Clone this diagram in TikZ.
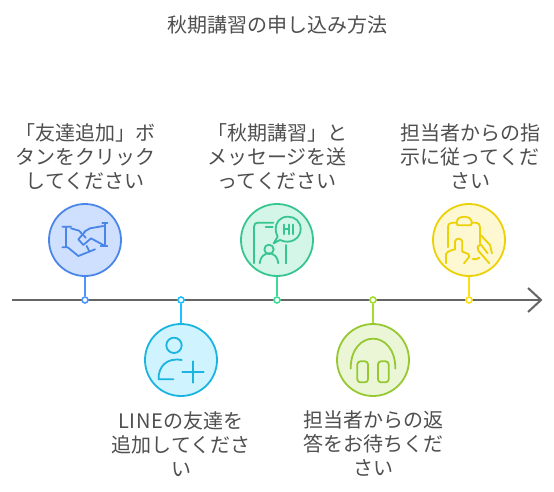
\documentclass[tikz,border=0pt]{standalone}
\usepackage{fontspec}
\setmainfont{Noto Sans CJK JP}
\definecolor{txt}{HTML}{4F4F4F}
\definecolor{axis}{HTML}{666666}
\definecolor{bS}{HTML}{4A86E8}\definecolor{bF}{HTML}{CFE0FF}\definecolor{bC}{HTML}{4D94FF}
\definecolor{cS}{HTML}{1AB4E0}\definecolor{cF}{HTML}{CFF3FF}\definecolor{cC}{HTML}{1EC0FF}
\definecolor{gS}{HTML}{38C58F}\definecolor{gF}{HTML}{D3F6E9}\definecolor{gC}{HTML}{3DDC97}
\definecolor{lS}{HTML}{97C832}\definecolor{lF}{HTML}{EAF6D6}\definecolor{lC}{HTML}{A3DB2E}
\definecolor{yS}{HTML}{EBD106}\definecolor{yF}{HTML}{FDF8D2}\definecolor{yC}{HTML}{FDE010}
\tikzset{
  badge/.style={circle,draw=#1S,fill=#1F,line width=1.8pt,minimum size=72pt,inner sep=0pt},
  tick/.style={circle,draw=#1C,fill=white,line width=1.6pt,minimum size=6pt,inner sep=0pt},
  link/.style={draw=#1C,line width=2pt},
  label/.style={text=txt,font=\fontsize{20}{24}\selectfont,align=center,inner sep=0pt},
  icon/.style={draw=#1S,line width=1.8pt,line cap=round,line join=round},
  zoomed/.style 2 args={shift={(#1,#2)},x=0.33333pt,y=-0.33333pt},
}
\begin{document}
\begin{tikzpicture}[x=1pt,y=-1pt]
\useasboundingbox (0,0) rectangle (554,492);
\fill[white] (0,0) rectangle (554,492);
\node[label] (title) at (277,24.5) {秋期講習の申し込み方法};
\coordinate (axisL) at (12,300);
\coordinate (axisR) at (541,300);
\draw[axis,line width=1.9pt] (axisL) -- (axisR);
\draw[axis,line width=2pt] (528,288) -- (axisR) -- (528,312);

\node[badge=b] (c1) at (85,240) {};
\node[badge=c] (c2) at (181,360) {};
\node[badge=g] (c3) at (277,240) {};
\node[badge=l] (c4) at (373,360) {};
\node[badge=y] (c5) at (469,240) {};
\node[tick=b] (t1) at (85,300) {};
\node[tick=c] (t2) at (181,300) {};
\node[tick=g] (t3) at (277,300) {};
\node[tick=l] (t4) at (373,300) {};
\node[tick=y] (t5) at (469,300) {};
\draw[link=b] (c1) -- (t1);
\draw[link=c] (c2) -- (t2);
\draw[link=g] (c3) -- (t3);
\draw[link=l] (c4) -- (t4);
\draw[link=y] (c5) -- (t5);

\node[label] (l1) at (85,156.5) {「友達追加」ボ\\タンをクリック\\してください};
\node[label] (l2) at (181,444) {{\addfontfeature{LetterSpace=4}LINE}の友達を\\追加してくださ\\い};
\node[label] (l3) at (277,156.5) {「秋期講習」と\\メッセージを送\\ってください};
\node[label] (l4) at (373,444) {担当者からの返\\答をお待ちくだ\\さい};
\node[label] (l5) at (470,156.5) {担当者からの指\\示に従ってくだ\\さい};

% handshake
\begin{scope}[zoomed={30}{190},icon=b]
\draw (97,110) -- (123,110) (108,110) -- (108,172) (97,172) -- (113,172) -- (145,198) -- (195,178);
\draw (123,115) -- (147,122) -- (167,143);
\draw (163,125) -- (180,115) -- (220,108);
\draw (217,100) -- (232,100) (225,100) -- (225,168) (212,168) -- (232,168);
\draw (165,125) -- (145,148) -- (160,165) -- (183,145) -- (220,165);
\draw (170,168) -- (178,184);
\end{scope}
% person plus
\begin{scope}[zoomed={30}{190},icon=c]
\draw (432,466) circle (23);
\draw (430,568) -- (386,568) .. controls (384,530) and (410,502) .. (455,510);
\draw (457,546) -- (521,546) (489,514) -- (489,578);
\end{scope}
% phone with HI
\begin{scope}[zoomed={230}{190},icon=g]
\draw (72,220) -- (72,110) .. controls (72,102) and (76,98) .. (84,98) -- (130,98);
\draw (107,110) -- (128,110);
\draw (168,165) -- (168,220);
\draw (150,150) .. controls (182,165) and (212,145) .. (212,117) .. controls (212,95) and (195,80) .. (174,80) .. controls (150,80) and (136,98) .. (137,118) .. controls (138,130) and (141,135) .. (143,140) -- (131,160) -- cycle;
\draw[line width=2.2pt] (161,104) -- (161,132) (176,104) -- (176,132) (161,118) -- (176,118) (188,104) -- (188,132);
\draw (117,178) circle (14);
\draw (89,220) .. controls (92,180) and (142,180) .. (145,220);
\end{scope}
% headphones
\begin{scope}[zoomed={230}{190},icon=l]
\draw (362,536) .. controls (362,416) and (496,416) .. (496,536);
\draw[rounded corners=3pt] (382,514) rectangle (414,577);
\draw[rounded corners=3pt] (444,514) rectangle (476,577);
\end{scope}
% clipboard with hand
\begin{scope}[zoomed={410}{190},icon=y]
\draw (114,172) -- (114,112) .. controls (114,102) and (120,98) .. (128,98) -- (140,98);
\draw (185,98) -- (198,98) .. controls (206,98) and (210,104) .. (210,112) -- (210,160);
\draw[rounded corners=2pt] (140,88) -- (155,80) -- (170,80) -- (185,88) -- (185,106) -- (140,106) -- cycle;
\draw (108,220) -- (108,192) .. controls (112,184) and (125,180) .. (135,178) -- (135,155) .. controls (136,143) and (155,143) .. (157,155) -- (157,185) -- (175,192) -- (178,200) -- (162,220);
\draw (188,207) .. controls (195,209) and (203,208) .. (208,203);
\draw (212,135) -- (240,165) -- (246,190);
\draw (238,220) -- (205,182) -- (203,170) -- (212,163) -- (233,190);
\end{scope}
\end{tikzpicture}
\end{document}
